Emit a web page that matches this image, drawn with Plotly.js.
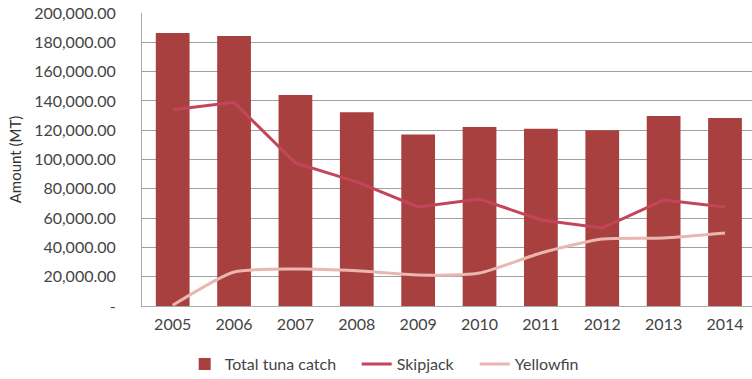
<!DOCTYPE html>
<html><head><meta charset="utf-8">
<script src="https://cdn.plot.ly/plotly-3.0.1.min.js"></script>
<style>html,body{margin:0;padding:0;background:#fff;overflow:hidden}#chart{width:752px;height:379px}</style>
</head><body><div id="chart"></div>
<script>
const years = ['2005','2006','2007','2008','2009','2010','2011','2012','2013','2014'];
const totalTuna = [186300,184300,144000,132200,117000,122200,121000,119900,129700,128300];
const skipjack = [134000,139000,97600,84700,67600,73000,58700,53200,72300,67600];
const yellowfin = [500,23200,25200,24000,21200,22500,36200,45700,46400,49800];
const yTickVals = [0,20000,40000,60000,80000,100000,120000,140000,160000,180000,200000];
const yTickText = ['-','20,000.00','40,000.00','60,000.00','80,000.00','100,000.00','120,000.00','140,000.00','160,000.00','180,000.00','200,000.00'];

const font = 'Lato, "Noto Sans", sans-serif';
const data = [
  {type:'bar', x:years, y:totalTuna, name:'Total tuna catch', marker:{color:'#a8403f'}, legendwidth:127},
  {type:'scatter', mode:'lines', x:years, y:skipjack, name:'Skipjack', line:{color:'#c4455a', width:3}, legendwidth:73},
  {type:'scatter', mode:'lines', x:years, y:yellowfin, name:'Yellowfin', line:{color:'#e9b7b0', width:3, shape:'spline', smoothing:0.6}, legendwidth:70}
];
const layout = {
  width:752, height:379,
  margin:{l:142, r:0, t:13, b:73, autoexpand:false},
  paper_bgcolor:'#ffffff', plot_bgcolor:'#ffffff',
  font:{family:font, color:'#444', size:16},
  bargap:0.45,
  showlegend:true,
  legend:{orientation:'h', x:0.07, xanchor:'left', y:-0.14, yanchor:'top', font:{size:16, color:'#444'}, traceorder:'normal'},
  xaxis:{type:'category', range:[-0.5, 9.44], showgrid:false, showline:true, linecolor:'#aaa', linewidth:1, ticks:'', tickfont:{size:16}, ticklabelstandoff:4},
  yaxis:{range:[0,200000], tickvals:yTickVals, ticktext:yTickText, showgrid:true, gridcolor:'#a0a0a0', gridwidth:1, showline:true, linecolor:'#aaa', linewidth:1, zeroline:false, ticks:'', tickfont:{size:16}, ticklabelstandoff:22,
    title:{text:'Amount (MT)', font:{size:15, color:'#333'}, standoff:8}}
};
Plotly.newPlot('chart', data, layout, {displayModeBar:false});
</script></body></html>
